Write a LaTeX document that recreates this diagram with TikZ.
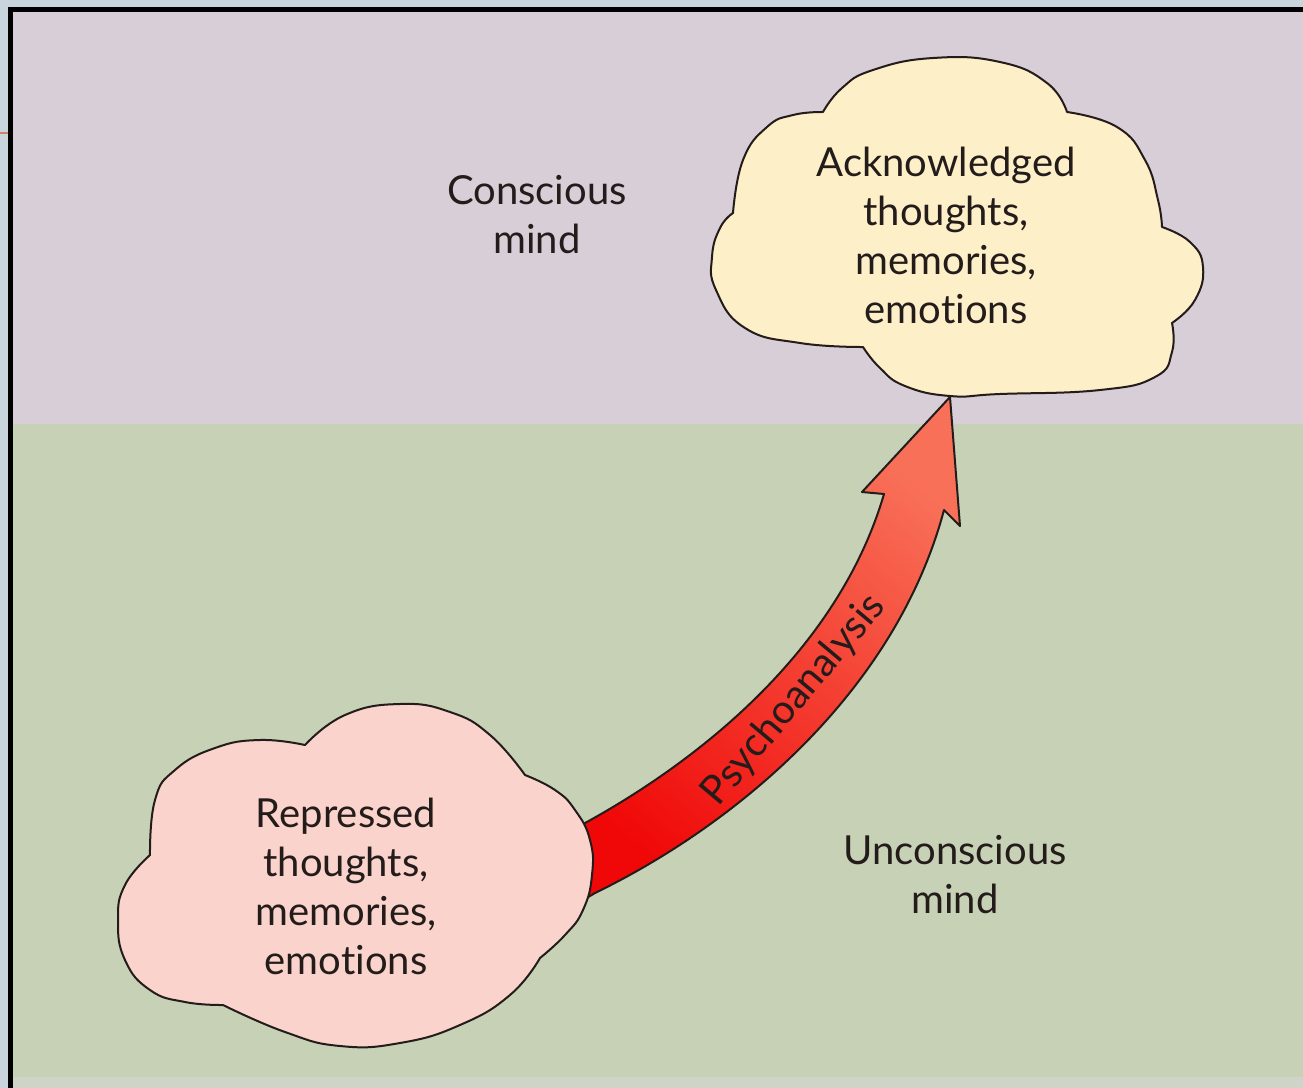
\documentclass[tikz,border=0pt]{standalone}
\usepackage{fontspec}
\setmainfont{Lato}[Ligatures={NoCommon}]
\usetikzlibrary{positioning}
\definecolor{slidebg}{RGB}{200,213,221}
\definecolor{topzone}{RGB}{215,206,215}
\definecolor{lowzone}{RGB}{199,209,182}
\definecolor{edgestrip}{RGB}{206,212,199}
\definecolor{ackfill}{RGB}{253,239,200}
\definecolor{repfill}{RGB}{250,212,204}
\definecolor{inkline}{RGB}{35,28,26}
\definecolor{arrowred}{RGB}{240,8,8}
\definecolor{arrowmid}{RGB}{244,40,28}
\definecolor{arrowpink}{RGB}{248,112,88}
\definecolor{tickorange}{RGB}{214,126,108}
\begin{document}
\begin{tikzpicture}[x=0.5pt,y=-0.5pt]
  \tikzstyle{cloudline}=[draw=inkline, line width=1pt, line join=round]
  \tikzstyle{cloudtext}=[align=center, text=inkline, font=\fontsize{20}{24.5}\selectfont, inner sep=0pt]
  \tikzstyle{zonetext}=[cloudtext]
  \useasboundingbox (0,0) rectangle (1303,1088);
  % slide and frame
  \fill[slidebg] (0,0) rectangle (1303,1088);
  \draw[tickorange, line width=1pt] (0,133) -- (8,133);
  \fill[black] (8,7) rectangle (1303,1088);
  \fill[topzone] (13,12) rectangle (1303,424);
  \fill[lowzone] (13,424) rectangle (1303,1077);
  \fill[edgestrip] (13,1077) rectangle (1303,1088);
  % upper cloud
  \filldraw[cloudline, fill=ackfill]
    plot[smooth, tension=0.8] coordinates {(823,112) (842,88) (873,70) (933,58) (1000,62) (1047,83) (1067,112)}
    -- plot[smooth, tension=0.8] coordinates {(1067,112) (1117,127) (1145,160) (1158,200) (1162,227)}
    -- plot[smooth, tension=0.8] coordinates {(1162,227) (1190,242) (1203,267) (1195,300) (1172,323)}
    -- plot[smooth, tension=0.8] coordinates {(1172,323) (1172,352) (1155,377) (1100,390) (1000,394) (950,396) (905,386) (880,368) (863,347)}
    -- plot[smooth, tension=0.8] coordinates {(863,347) (800,343) (745,328) (716,290) (712,257) (720,228) (733,213)}
    -- plot[smooth, tension=0.8] coordinates {(733,213) (743,160) (767,127) (793,115) (823,112)}
    -- cycle;
  \coordinate (tip) at (950,397);
  % the arrow
  \filldraw[cloudline, bottom color=arrowred, middle color=arrowmid, top color=arrowpink, shading angle=-40]
    (560,835) -- (572,830) .. controls (686,770) and (836,658) .. (884,494)
    -- (862,492) -- (tip) -- (960,526) -- (944,510)
    .. controls (894,697) and (729,828) .. (595,893) -- (575,905) -- cycle;
  % lower cloud
  \filldraw[cloudline, fill=repfill]
    plot[smooth, tension=0.8] coordinates {(150,855) (155,800) (175,770) (215,748) (260,740) (305,745)}
    -- plot[smooth, tension=0.8] coordinates {(305,745) (345,715) (400,704) (450,712) (490,735) (525,775)}
    -- plot[smooth, tension=0.8] coordinates {(525,775) (555,790) (575,810) (590,840) (592,875) (583,910) (565,935) (540,958)}
    -- plot[smooth, tension=0.8] coordinates {(540,958) (510,995) (460,1025) (400,1043) (340,1046) (285,1032) (223,1005)}
    -- plot[smooth, tension=0.8] coordinates {(223,1005) (185,1002) (150,990) (125,960) (118,920) (125,885) (150,855)}
    -- cycle;
  % texts
  \node[cloudtext] (acknowledged) at (946,235) {Acknowledged\\thoughts,\\memories,\\emotions};
  \node[cloudtext] (repressed) at (346,886) {Repressed\\thoughts,\\memories,\\emotions};
  \node[zonetext] (conscious) at (537,215) {Conscious\\mind};
  \node[zonetext] (unconscious) at (955,875) {Unconscious\\mind};
  \node[cloudtext, rotate=50] (psycho) at (794,700) {Psychoanalysis};
\end{tikzpicture}
\end{document}
